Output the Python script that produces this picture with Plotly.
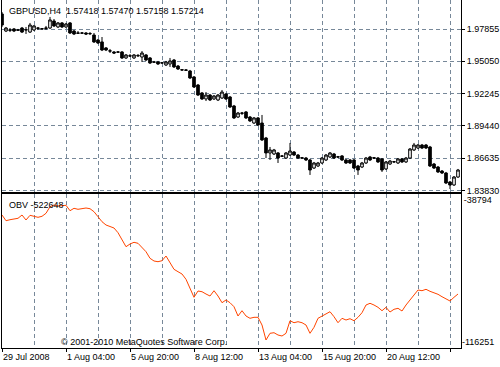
import plotly.graph_objects as go

# ---- data (GBPUSD H4, one value per bar) ----
bars = list(range(115))

open_ = [1.9916,1.9768,1.9777,1.9786,1.9774,1.9794,1.9777,1.9759,1.9777,1.9794,
         1.9786,1.9790,1.9794,1.9855,1.9803,1.9838,1.9803,1.9838,1.9768,1.9751,
         1.9749,1.9751,1.9744,1.9733,1.9690,1.9673,1.9621,1.9596,1.9586,1.9584,
         1.9586,1.9534,1.9553,1.9534,1.9556,1.9542,1.9560,1.9534,1.9497,1.9499,
         1.9490,1.9473,1.9482,1.9516,1.9464,1.9432,1.9430,1.9421,1.9369,1.9299,
         1.9230,1.9178,1.9212,1.9178,1.9169,1.9186,1.9221,1.9195,1.9117,1.9021,
         1.9056,1.9065,1.9021,1.8969,1.9013,1.8969,1.8839,1.8709,1.8700,1.8709,
         1.8683,1.8665,1.8691,1.8717,1.8691,1.8667,1.8665,1.8648,1.8578,1.8596,
         1.8622,1.8648,1.8674,1.8700,1.8676,1.8683,1.8648,1.8648,1.8648,1.8596,
         1.8587,1.8622,1.8674,1.8667,1.8665,1.8657,1.8570,1.8613,1.8631,1.8622,
         1.8657,1.8631,1.8665,1.8735,1.8752,1.8778,1.8778,1.8761,1.8613,1.8587,
         1.8552,1.8535,1.8457,1.8431,1.8500]

high = [1.9933,1.9803,1.9794,1.9794,1.9786,1.9803,1.9803,1.9838,1.9820,1.9803,
        1.9794,1.9812,1.9890,1.9872,1.9846,1.9846,1.9838,1.9846,1.9777,1.9768,
        1.9759,1.9759,1.9759,1.9751,1.9699,1.9716,1.9629,1.9612,1.9594,1.9594,
        1.9594,1.9568,1.9568,1.9568,1.9568,1.9594,1.9568,1.9542,1.9508,1.9508,
        1.9499,1.9508,1.9534,1.9525,1.9473,1.9438,1.9438,1.9430,1.9377,1.9308,
        1.9238,1.9238,1.9221,1.9212,1.9221,1.9256,1.9230,1.9204,1.9126,1.9065,
        1.9065,1.9073,1.9030,1.9021,1.9021,1.9039,1.8848,1.8761,1.8744,1.8717,
        1.8691,1.8717,1.8796,1.8726,1.8700,1.8674,1.8674,1.8657,1.8631,1.8631,
        1.8674,1.8700,1.8717,1.8709,1.8683,1.8691,1.8657,1.8657,1.8657,1.8605,
        1.8631,1.8674,1.8683,1.8674,1.8674,1.8665,1.8639,1.8648,1.8639,1.8665,
        1.8665,1.8674,1.8752,1.8796,1.8787,1.8787,1.8787,1.8770,1.8622,1.8596,
        1.8561,1.8544,1.8466,1.8509,1.8570]

low = [1.9803,1.9759,1.9759,1.9759,1.9768,1.9751,1.9742,1.9751,1.9768,1.9777,
       1.9777,1.9777,1.9786,1.9803,1.9794,1.9794,1.9794,1.9742,1.9733,1.9742,
       1.9742,1.9733,1.9733,1.9664,1.9655,1.9594,1.9594,1.9577,1.9568,1.9577,
       1.9525,1.9525,1.9542,1.9525,1.9542,1.9499,1.9508,1.9482,1.9490,1.9473,
       1.9482,1.9464,1.9456,1.9447,1.9430,1.9421,1.9421,1.9351,1.9273,1.9204,
       1.9169,1.9160,1.9160,1.9169,1.9160,1.9178,1.9169,1.9100,1.9004,1.9013,
       1.9039,1.9004,1.8978,1.8961,1.8943,1.8813,1.8665,1.8648,1.8691,1.8622,
       1.8674,1.8657,1.8683,1.8683,1.8657,1.8657,1.8639,1.8518,1.8570,1.8587,
       1.8613,1.8639,1.8665,1.8657,1.8665,1.8639,1.8613,1.8613,1.8570,1.8518,
       1.8578,1.8613,1.8639,1.8657,1.8622,1.8544,1.8561,1.8605,1.8622,1.8613,
       1.8622,1.8622,1.8657,1.8726,1.8743,1.8743,1.8743,1.8587,1.8570,1.8535,
       1.8526,1.8439,1.8396,1.8422,1.8492]

close = [1.9820,1.9794,1.9775,1.9768,1.9777,1.9759,1.9779,1.9820,1.9812,1.9792,
         1.9788,1.9794,1.9864,1.9812,1.9838,1.9803,1.9829,1.9751,1.9742,1.9749,
         1.9751,1.9742,1.9746,1.9673,1.9664,1.9603,1.9603,1.9594,1.9577,1.9586,
         1.9534,1.9560,1.9551,1.9560,1.9553,1.9577,1.9516,1.9490,1.9499,1.9482,
         1.9492,1.9499,1.9508,1.9456,1.9438,1.9430,1.9427,1.9360,1.9282,1.9212,
         1.9178,1.9212,1.9169,1.9204,1.9212,1.9238,1.9178,1.9108,1.9013,1.9056,
         1.9054,1.9013,1.8987,1.9013,1.8952,1.8822,1.8709,1.8735,1.8735,1.8665,
         1.8681,1.8709,1.8726,1.8691,1.8665,1.8665,1.8648,1.8561,1.8622,1.8622,
         1.8665,1.8691,1.8709,1.8665,1.8674,1.8648,1.8622,1.8622,1.8578,1.8561,
         1.8622,1.8665,1.8648,1.8665,1.8631,1.8561,1.8631,1.8639,1.8633,1.8657,
         1.8631,1.8665,1.8743,1.8778,1.8778,1.8752,1.8752,1.8596,1.8578,1.8544,
         1.8535,1.8448,1.8431,1.8500,1.8561]

obv = [-49357,-52224,-51721,-51369,-51017,-49357,-51872,-49508,-49860,-50514,
       -50011,-48502,-45182,-44327,-44830,-44478,-44478,-47194,-45987,-46490,
       -46188,-45836,-46188,-47697,-50212,-52727,-54387,-55242,-55896,-58260,
       -61932,-65302,-63944,-63089,-63592,-65604,-67817,-71137,-72495,-72847,
       -72344,-69980,-73350,-76670,-77877,-79034,-81700,-86227,-90754,-87585,
       -87937,-89094,-90100,-87434,-90100,-93470,-92112,-93470,-95482,-100160,
       -97494,-100160,-101317,-100814,-100814,-104687,-112232,-108862,-108560,-109717,
       -110220,-108862,-102524,-103530,-103027,-103530,-104687,-108862,-105844,-101317,
       -100160,-99154,-97997,-100512,-103530,-101317,-102172,-101518,-102524,-100814,
       -98500,-94627,-93772,-94627,-95784,-97494,-95784,-98148,-96790,-96287,
       -97645,-94627,-92112,-89094,-87082,-87434,-86730,-87736,-88440,-89245,
       -90452,-91458,-92615,-90754,-89094]

label_bars = [0, 16, 32, 48, 64, 80, 96, 112]
label_text = ["29 Jul 2008", "1 Aug 04:00", "5 Aug 20:00", "8 Aug 12:00",
              "13 Aug 04:00", "15 Aug 20:00", "20 Aug 12:00", "25 Aug 04:00"]
grid_bars = [8, 16, 24, 32, 40, 48, 56, 64, 72, 80, 88, 96, 104, 112]
minor_grid_bars = [8, 24, 40, 56, 72, 88, 104]
price_ticks = [1.83830, 1.86635, 1.89440, 1.92245, 1.95050, 1.97855]
price_range = [1.83700, 2.00373]
obv_max = -38794
obv_min = -116251

title_text = "GBPUSD,H4 \u00a01.57418 1.57470 1.57158 1.57214"
obv_label = "OBV -522648"
copyright_text = "\u00a9 2001-2010 MetaQuotes Software Corp."

GRID = "#778899"
DASH = "4px,3px"
FONT = "Liberation Sans"

fig = go.Figure()
fig.add_trace(go.Candlestick(
    x=bars, open=open_, high=high, low=low, close=close,
    xaxis="x", yaxis="y",
    increasing=dict(fillcolor="white", line=dict(color="black", width=1)),
    decreasing=dict(fillcolor="black", line=dict(color="black", width=1)),
    whiskerwidth=0, showlegend=False, hoverinfo="skip"))
fig.add_trace(go.Scatter(
    x=bars, y=obv, mode="lines", xaxis="x2", yaxis="y2",
    line=dict(color="#FF4500", width=1), showlegend=False, hoverinfo="skip"))
fig.add_trace(go.Scatter(x=[], y=[], xaxis="x2", yaxis="y3", showlegend=False))

xrange = [0, 114.75]
axis_common = dict(showline=True, linecolor="black", linewidth=1, zeroline=False,
                   automargin=False)

fig.update_layout(
    template="none",
    width=500, height=367,
    margin=dict(l=2, r=39, t=0, b=19, pad=0),
    paper_bgcolor="white", plot_bgcolor="white",
    font=dict(family=FONT, size=9, color="black"),
    boxgap=0.35, boxgroupgap=0,
    showlegend=False,
    xaxis=dict(domain=[0, 1], anchor="y", range=xrange, tickmode="array",
               tickvals=grid_bars, showticklabels=False, ticks="",
               showgrid=True, gridcolor=GRID, griddash=DASH, gridwidth=1,
               rangeslider=dict(visible=False), mirror=False, **axis_common),
    yaxis=dict(domain=[0.4483, 1], anchor="x", side="right", range=price_range,
               tickmode="array", tickvals=price_ticks,
               ticktext=["%.5f" % v for v in price_ticks],
               ticks="outside", ticklen=3, tickcolor="black",
               showgrid=True, gridcolor=GRID, griddash=DASH, gridwidth=1,
               mirror=True, **axis_common),
    xaxis2=dict(domain=[0, 1], anchor="y2", range=xrange, tickmode="array",
                tickvals=label_bars, ticktext=label_text,
                ticks="outside", ticklen=3, tickcolor="black",
                ticklabelposition="outside right",
                showgrid=True, gridcolor=GRID, griddash=DASH, gridwidth=1,
                minor=dict(tickmode="array", tickvals=minor_grid_bars, showgrid=True,
                           gridcolor=GRID, griddash=DASH, gridwidth=1, ticks=""),
                mirror=True, **axis_common),
    yaxis2=dict(domain=[0, 0.4425], anchor="x2", side="right",
                range=[obv_min, obv_max], tickmode="array", tickvals=[obv_max],
                ticktext=[str(obv_max)], ticks="", ticklabelposition="outside bottom",
                showgrid=False, mirror=True, **axis_common),
    yaxis3=dict(overlaying="y2", anchor="x2", side="right", automargin=False,
                range=[obv_min, obv_max], tickmode="array", tickvals=[obv_min],
                ticktext=[str(obv_min)], ticks="", ticklabelposition="outside top",
                showgrid=False, showline=False, zeroline=False),
    annotations=[
        dict(text=title_text, xref="x domain", yref="y domain", x=0.011, y=0.943,
             xanchor="left", yanchor="middle", showarrow=False,
             font=dict(family=FONT, size=9, color="black")),
        dict(text=obv_label, xref="x2 domain", yref="y2 domain", x=0.011, y=0.929,
             xanchor="left", yanchor="middle", showarrow=False,
             font=dict(family=FONT, size=9, color="black")),
        dict(text=copyright_text, xref="x2 domain", yref="y2 domain", x=0.124, y=0.042,
             xanchor="left", yanchor="middle", showarrow=False,
             font=dict(family=FONT, size=9, color="black")),
    ],
)

fig.write_html(
    "out.html",
    config={"displayModeBar": False, "staticPlot": True},
    post_script="document.body.style.margin='0px';document.body.style.overflow='hidden';",
)
